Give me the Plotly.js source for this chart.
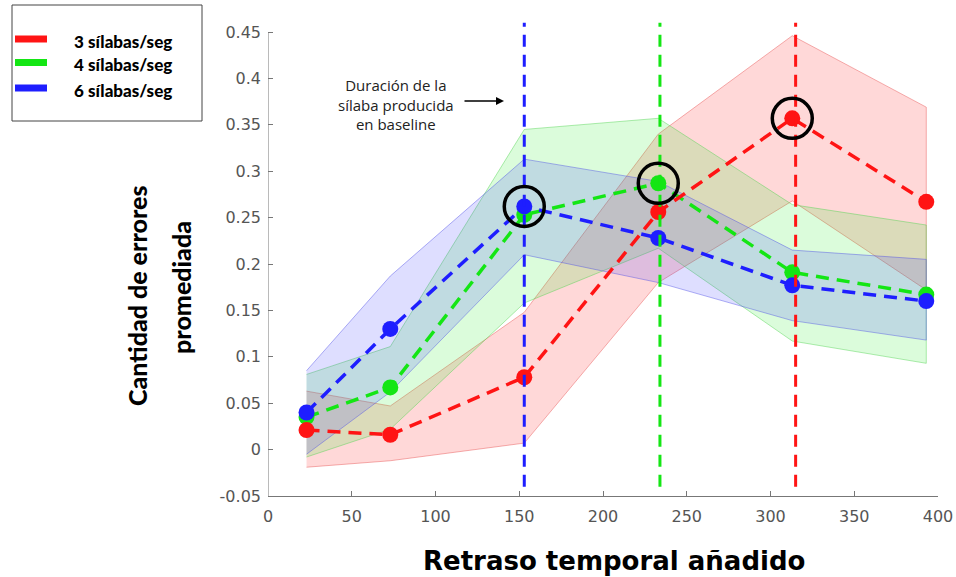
<!DOCTYPE html>
<html>
<head>
<meta charset="utf-8">
<script src="https://cdn.plot.ly/plotly-3.0.1.min.js"></script>
<style>html,body{margin:0;padding:0;background:#fff;}#chart{width:956px;height:577px;}</style>
</head>
<body>
<div id="chart"></div>
<script>
// ---- data ----
const delays = [23, 73, 153, 233, 313, 393];

const seriesNames = ['3 sílabas/seg', '4 sílabas/seg', '6 sílabas/seg'];

const redMean  = [0.021, 0.016, 0.078, 0.256, 0.357, 0.267];
const redUpper = [0.063, 0.047, 0.148, 0.340, 0.446, 0.369];
const redLower = [-0.019, -0.012, 0.007, 0.180, 0.268, 0.172];

const greenMean  = [0.035, 0.067, 0.253, 0.287, 0.191, 0.167];
const greenUpper = [0.081, 0.111, 0.345, 0.357, 0.264, 0.242];
const greenLower = [-0.008, 0.022, 0.158, 0.217, 0.117, 0.093];

const blueMean  = [0.040, 0.130, 0.262, 0.228, 0.177, 0.160];
const blueUpper = [0.085, 0.187, 0.313, 0.289, 0.215, 0.205];
const blueLower = [-0.005, 0.062, 0.210, 0.180, 0.139, 0.118];

// baseline syllable duration per rate (vertical markers)
const baselineDur = [315, 234, 153];
const baselineSpan = [-0.04, 0.46];
// index of the highlighted (peak) point for each rate
const peakIndex = [4, 3, 2];

const yTickVals = [-0.05, 0, 0.05, 0.1, 0.15, 0.2, 0.25, 0.3, 0.35, 0.4, 0.45];
const yTickText = ['-0.05', '0', '0.05', '0.1', '0.15', '0.2', '0.25', '0.3', '0.35', '0.4', '0.45'];
const xTickVals = [0, 50, 100, 150, 200, 250, 300, 350, 400];

const xTitle = 'Retraso temporal añadido';
const yTitleLines = ['Cantidad de errores', 'promediada'];
const noteText = 'Duración de la<br>sílaba producida<br>en baseline';

// ---- styles ----
const cols = ['#ff1414', '#14e614', '#1e1eff'];
const fills = ['rgba(255,40,40,0.18)', 'rgba(40,240,40,0.17)', 'rgba(60,60,255,0.17)'];
const edges = ['rgba(230,80,80,0.45)', 'rgba(80,210,80,0.45)', 'rgba(80,80,230,0.45)'];

const means = [redMean, greenMean, blueMean];
const uppers = [redUpper, greenUpper, blueUpper];
const lowers = [redLower, greenLower, blueLower];

const traces = [];
// bands
for (let i = 0; i < 3; i++) {
  traces.push({
    x: delays.concat(delays.slice().reverse()),
    y: uppers[i].concat(lowers[i].slice().reverse()),
    type: 'scatter', mode: 'lines', fill: 'toself',
    fillcolor: fills[i], line: {color: edges[i], width: 1},
    hoverinfo: 'skip', showlegend: false
  });
}
// mean lines: green, red, blue order
[1, 0, 2].forEach(i => {
  traces.push({
    x: delays, y: means[i], type: 'scatter', mode: 'lines+markers',
    name: seriesNames[i],
    line: {color: cols[i], width: 3.5, dash: '13px,8px'},
    marker: {color: cols[i], size: 16},
    showlegend: false
  });
});
// vertical baseline markers
for (let i = 0; i < 3; i++) {
  traces.push({
    x: [baselineDur[i], baselineDur[i]], y: baselineSpan,
    type: 'scatter', mode: 'lines',
    line: {color: cols[i], width: 3, dash: '12px,8px'},
    hoverinfo: 'skip', showlegend: false, cliponaxis: false
  });
}
// highlight circles
traces.push({
  x: peakIndex.map(k => delays[k]),
  y: peakIndex.map((k, i) => means[i][k]),
  type: 'scatter', mode: 'markers',
  marker: {symbol: 'circle-open', size: 40, color: '#000', line: {width: 3.5, color: '#000'}},
  hoverinfo: 'skip', showlegend: false
});

// legend drawn in paper coords
const PW = 670, PH = 479, ML = 268, PT = 17;
const px2x = px => (px - ML) / PW;
const py2y = py => (PT + PH - py) / PH;

const shapes = [
  {type: 'rect', xref: 'paper', yref: 'paper', x0: px2x(12), x1: px2x(202), y0: py2y(121), y1: py2y(5),
   line: {color: '#444', width: 1}, fillcolor: '#fff'},
  {type: 'line', xref: 'x', yref: 'y', x0: 0, x1: 0, y0: -0.05, y1: 0.45, line: {color: '#777', width: 1}}
];
const legY = [39, 62.5, 88];
const annotations = [];
for (let i = 0; i < 3; i++) {
  shapes.push({type: 'line', xref: 'paper', yref: 'paper', x0: px2x(15), x1: px2x(47),
    y0: py2y(legY[i]), y1: py2y(legY[i]), line: {color: cols[i], width: 7}});
  annotations.push({xref: 'paper', yref: 'paper', x: px2x(72), y: py2y(legY[i] + 2),
    xanchor: 'left', yanchor: 'middle', showarrow: false, text: seriesNames[i],
    font: {family: 'Lato, sans-serif', size: 17, weight: 900, color: '#000'}});
}
annotations.push({xref: 'paper', yref: 'paper', x: px2x(614), y: py2y(561), xanchor: 'center', yanchor: 'middle',
  showarrow: false, text: xTitle, font: {family: '"DejaVu Sans", sans-serif', size: 26, weight: 'bold', color: '#000'}});
annotations.push({xref: 'paper', yref: 'paper', x: px2x(137), y: py2y(296), xanchor: 'center', yanchor: 'middle',
  textangle: -90, showarrow: false, text: yTitleLines[0], font: {family: 'Lato, sans-serif', size: 25, weight: 900, color: '#000'}});
annotations.push({xref: 'paper', yref: 'paper', x: px2x(181), y: py2y(288), xanchor: 'center', yanchor: 'middle',
  textangle: -90, showarrow: false, text: yTitleLines[1], font: {family: 'Lato, sans-serif', size: 25, weight: 900, color: '#000'}});
// note
annotations.push({xref: 'paper', yref: 'paper', x: px2x(396), y: py2y(104), xanchor: 'center', yanchor: 'middle',
  showarrow: false, text: noteText, align: 'center',
  font: {family: '"Open Sans", sans-serif', size: 15, color: '#222'}});
annotations.push({xref: 'paper', yref: 'paper', x: px2x(504), y: py2y(101), ax: -41, ay: 0, text: '',
  showarrow: true, arrowhead: 2, arrowsize: 1, arrowwidth: 1.6, arrowcolor: '#000'});

const layout = {
  width: 956, height: 577,
  margin: {l: ML, r: 956 - ML - PW, t: PT, b: 577 - PT - PH},
  paper_bgcolor: '#fff', plot_bgcolor: '#fff',
  showlegend: false,
  xaxis: {range: [0, 400], tickvals: xTickVals, ticks: 'inside', ticklen: 5, tickcolor: '#777',
    showline: true, linecolor: '#777', linewidth: 1, showgrid: false, zeroline: false,
    ticklabelstandoff: 6,
    tickfont: {family: '"DejaVu Sans", sans-serif', size: 16, color: '#555'}},
  yaxis: {range: [-0.05, 0.45 + 15 / 928], tickvals: yTickVals, ticktext: yTickText, ticks: 'inside', ticklen: 5,
    tickcolor: '#777', showline: false, showgrid: false, zeroline: false,
    ticklabelstandoff: 6,
    tickfont: {family: '"DejaVu Sans", sans-serif', size: 16, color: '#555'}},
  shapes: shapes, annotations: annotations
};

Plotly.newPlot('chart', traces, layout, {displayModeBar: false, staticPlot: true});
</script>
</body>
</html>
